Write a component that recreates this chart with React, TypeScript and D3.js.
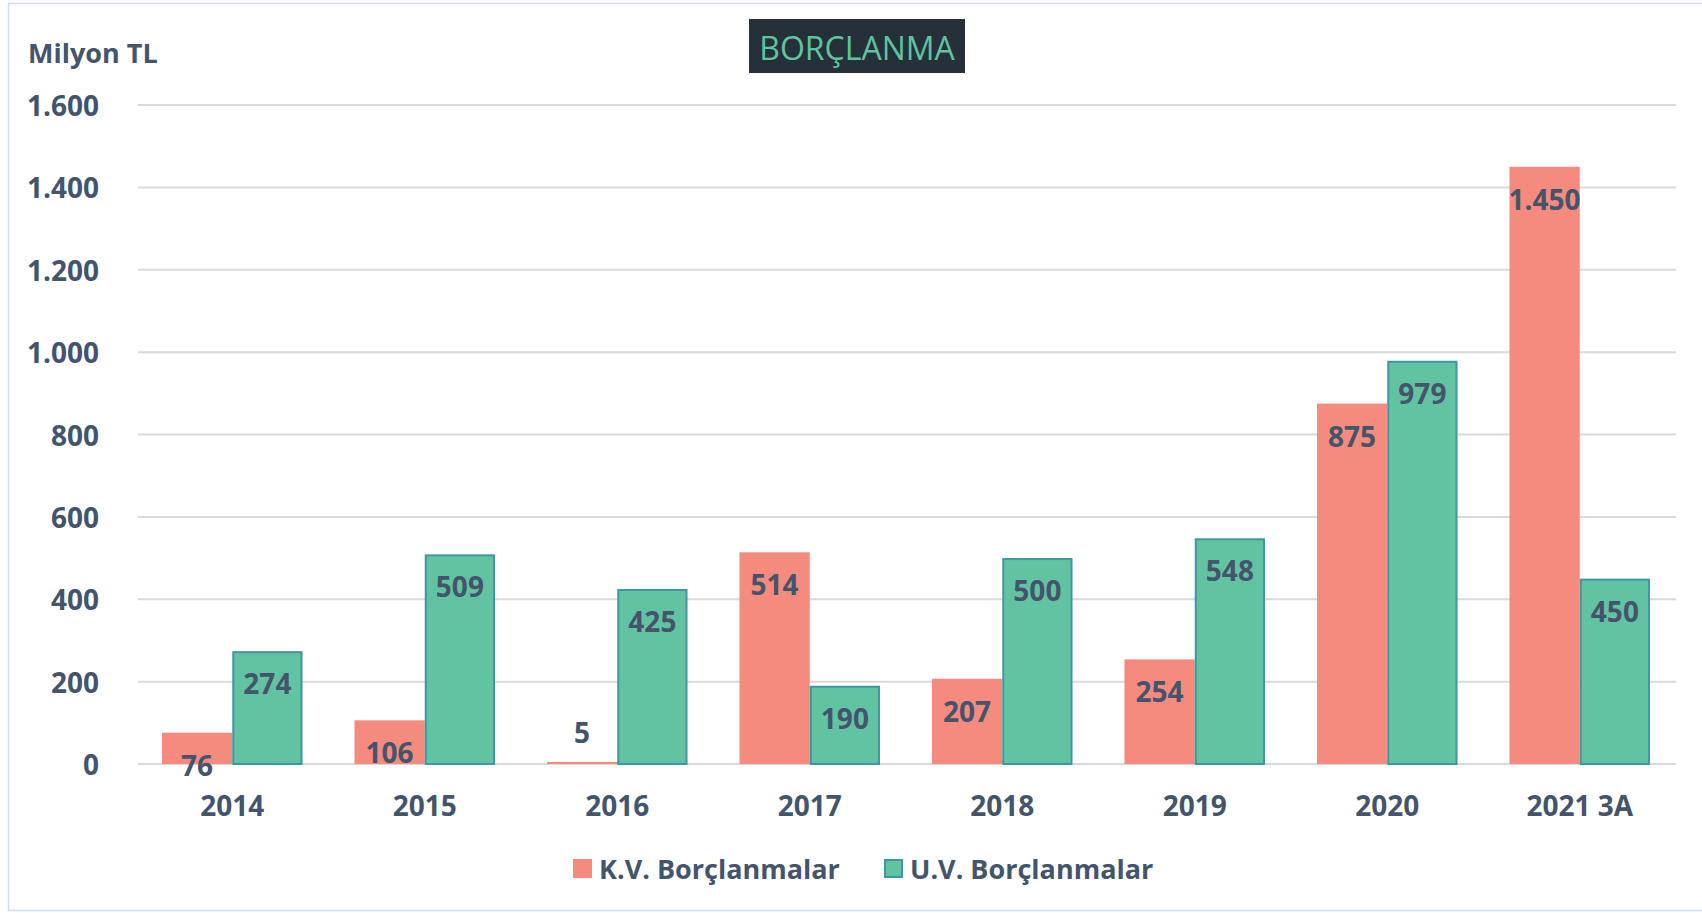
import React from "react";
import * as d3 from "d3";

const categories = ["2014", "2015", "2016", "2017", "2018", "2019", "2020", "2021 3A"];
const kvValues = [76, 106, 5, 514, 207, 254, 875, 1450];
const uvValues = [274, 509, 425, 190, 500, 548, 979, 450];
const yTicks = [0, 200, 400, 600, 800, 1000, 1200, 1400, 1600];
const seriesNames = ["K.V. Borçlanmalar", "U.V. Borçlanmalar"];
const titleText = "BORÇLANMA";
const unitText = "Milyon TL";

const W = 1702;
const H = 913;
const FONT = "'Open Sans', sans-serif";
const TEXT = "#44546A";
const KV = "#F58B7F";
const UV = "#62C3A2";
const UV_STROKE = "#3E98A0";

const fmt = (v: number) => d3.format(",")(v).replace(/,/g, ".");

export default function App() {
  const x0 = d3.scaleBand<string>().domain(categories).range([136, 1676]).paddingInner(0.27).paddingOuter(0.135);
  const x1 = d3.scaleBand<string>().domain(["kv", "uv"]).range([0, x0.bandwidth()]);
  const y = d3.scaleLinear().domain([0, 1600]).range([764, 105]);

  const series = [
    { key: "kv", values: kvValues, fill: KV, stroke: "none" },
    { key: "uv", values: uvValues, fill: UV, stroke: UV_STROKE },
  ];

  return (
    <svg width={W} height={H} style={{ position: "absolute", left: 0, top: 0, background: "#fff" }} fontFamily={FONT}>
      <rect x={8.5} y={3.5} width={W + 10} height={907} fill="#fff" stroke="#cfdff0" strokeWidth={1.5} />
      {/* gridlines */}
      {yTicks.map((t) => (
        <line key={t} x1={138} x2={1676} y1={y(t)} y2={y(t)} stroke="#d9d9d9" strokeWidth={2} />
      ))}
      {/* y tick labels */}
      {yTicks.map((t) => (
        <text key={"yl" + t} x={99} y={y(t)} textAnchor="end" dominantBaseline="central" fontSize={28} fontWeight={700} fill={TEXT}>
          {fmt(t)}
        </text>
      ))}
      <text x={28} y={52} dominantBaseline="central" fontSize={27} fontWeight={700} fill={TEXT}>
        {unitText}
      </text>
      {/* title */}
      <rect x={749} y={19} width={216} height={54} fill="#263039" />
      <text x={857} y={47} textAnchor="middle" dominantBaseline="central" fontSize={32} fill="#5FC3A0">
        {titleText}
      </text>
      {/* bars */}
      {series.map((s) =>
        categories.map((c, i) => {
          const v = s.values[i];
          const bx = (x0(c) as number) + (x1(s.key) as number);
          const bw = x1.bandwidth();
          const inset = s.stroke === "none" ? 0 : 1;
          return (
            <rect
              key={s.key + c}
              x={bx + inset}
              y={y(v) + inset}
              width={bw - inset * 2}
              height={Math.max(0, y(0) - y(v) - inset)}
              fill={s.fill}
              stroke={s.stroke}
              strokeWidth={s.stroke === "none" ? 0 : 2}
            />
          );
        })
      )}
      {/* value labels */}
      {series.map((s) =>
        categories.map((c, i) => {
          const v = s.values[i];
          const cx = (x0(c) as number) + (x1(s.key) as number) + x1.bandwidth() / 2;
          const h = y(0) - y(v);
          const ly = h < 20 ? y(v) - 30 : y(v) + 32;
          return (
            <text key={"l" + s.key + c} x={cx} y={ly} textAnchor="middle" dominantBaseline="central" fontSize={28} fontWeight={700} fill={TEXT}>
              {fmt(v)}
            </text>
          );
        })
      )}
      {/* x labels */}
      {categories.map((c) => (
        <text key={"x" + c} x={(x0(c) as number) + x0.bandwidth() / 2} y={805} textAnchor="middle" dominantBaseline="central" fontSize={28} fontWeight={700} fill={TEXT}>
          {c}
        </text>
      ))}
      {/* legend */}
      <rect x={573} y={859} width={19} height={19} fill={KV} />
      <text x={599} y={868} dominantBaseline="central" fontSize={27} fontWeight={700} fill={TEXT}>
        {seriesNames[0]}
      </text>
      <rect x={885} y={860} width={17} height={17} fill={UV} stroke={UV_STROKE} strokeWidth={2} />
      <text x={910} y={868} dominantBaseline="central" fontSize={27} fontWeight={700} fill={TEXT}>
        {seriesNames[1]}
      </text>
    </svg>
  );
}
